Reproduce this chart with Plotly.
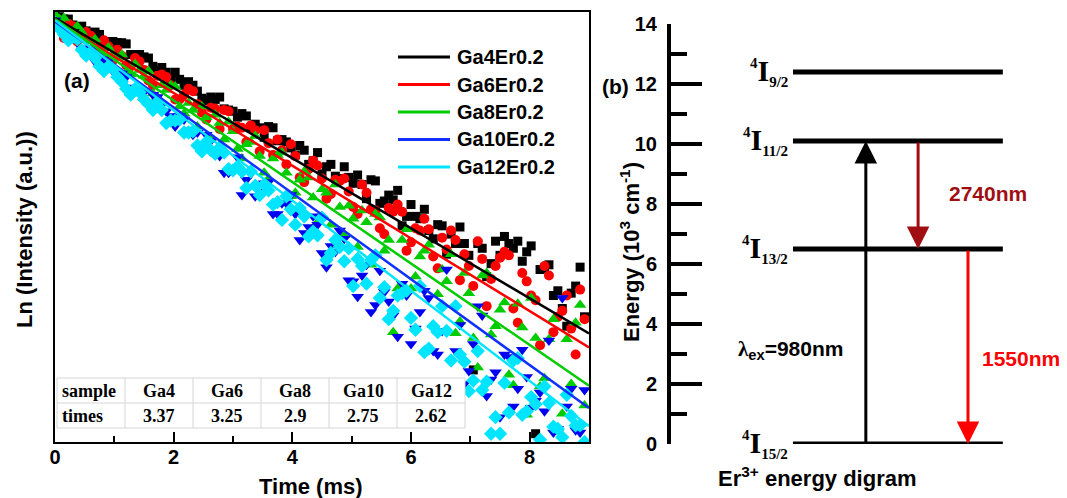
import plotly.graph_objects as go

W, H = 1067, 498
SANS = "Liberation Sans, Arial, sans-serif"
SERIF = "Liberation Serif, Times New Roman, serif"

# ---------------- panel (a): decay curves ----------------
sample_names = ["Ga4Er0.2", "Ga6Er0.2", "Ga8Er0.2", "Ga10Er0.2", "Ga12Er0.2"]
sample_short = ["Ga4", "Ga6", "Ga8", "Ga10", "Ga12"]
lifetimes_ms = [3.37, 3.25, 2.9, 2.75, 2.62]
fit_intercepts = [0.0, -0.02, -0.01, -0.03, -0.02]
series_colors = ["#000000", "#FF0000", "#00CC00", "#0000F0", "#00E5FF"]
line_colors = ["#000000", "#FF0000", "#00CC00", "#1030FF", "#00E5FF"]
marker_symbols = ["square", "circle", "triangle-up", "triangle-down", "diamond"]
marker_sizes = [9, 10, 11, 11, 11]

# sampling times (ms): main grid and the half-step samples between them
time_a = [0.00, 0.15, 0.30, 0.45, 0.60, 0.75, 0.90, 1.05, 1.20, 1.35,
          1.50, 1.65, 1.80, 1.95, 2.10, 2.25, 2.40, 2.55, 2.70, 2.85,
          3.00, 3.15, 3.30, 3.45, 3.60, 3.75, 3.90, 4.05, 4.20, 4.35,
          4.50, 4.65, 4.80, 4.95, 5.10, 5.25, 5.40, 5.55, 5.70, 5.85,
          6.00, 6.15, 6.30, 6.45, 6.60, 6.75, 6.90, 7.05, 7.20, 7.35,
          7.50, 7.65, 7.80, 7.95, 8.10, 8.25, 8.40, 8.55, 8.70, 8.85]
time_b = [0.075, 0.225, 0.375, 0.525, 0.675, 0.825, 0.975, 1.125, 1.275, 1.425,
          1.575, 1.725, 1.875, 2.025, 2.175, 2.325, 2.475, 2.625, 2.775, 2.925,
          3.075, 3.225, 3.375, 3.525, 3.675, 3.825, 3.975, 4.125, 4.275, 4.425,
          4.575, 4.725, 4.875, 5.025, 5.175, 5.325, 5.475, 5.625, 5.775, 5.925,
          6.075, 6.225, 6.375, 6.525, 6.675, 6.825, 6.975, 7.125, 7.275, 7.425,
          7.575, 7.725, 7.875, 8.025, 8.175, 8.325, 8.475, 8.625, 8.775, 8.925]

ln_ga4_a = [0.02, -0.01, -0.06, -0.07, -0.13, -0.14, -0.20, -0.21, -0.22, -0.31,
            -0.33, -0.41, -0.42, -0.51, -0.52, -0.54, -0.62, -0.70, -0.69, -0.77,
            -0.79, -0.81, -0.93, -0.93, -0.92, -1.04, -1.05, -1.16, -1.12, -1.21,
            -1.32, -1.24, -1.36, -1.35, -1.33, -1.53, -1.38, -1.55, -1.54, -1.76,
            -1.58, -1.70, -1.80, -1.75, -2.00, -1.91, -1.91, -2.98, -1.95, -2.08,
            -2.01, -1.91, -1.89, -1.98, -3.52, -2.12, -2.35, -2.46, -2.33, -2.11]
ln_ga4_b = [0.01, -0.01, -0.09, -0.11, -0.12, -0.20, -0.20, -0.21, -0.31, -0.31,
            -0.34, -0.45, -0.46, -0.46, -0.57, -0.57, -0.68, -0.67, -0.67, -0.78,
            -0.84, -0.83, -0.90, -1.01, -0.93, -1.03, -1.10, -1.08, -1.24, -1.14,
            -1.26, -1.34, -1.26, -1.40, -1.41, -1.37, -1.57, -1.50, -1.46, -1.68,
            -1.68, -1.62, -1.87, -1.76, -1.83, -1.77, -2.01, -1.91, -2.19, -1.89,
            -1.85, -1.95, -2.06, -1.93, -2.13, -2.09, -2.31, -2.61, -2.27, -2.53]

ln_ga6_a = [-0.03, -0.17, -0.07, -0.16, -0.15, -0.28, -0.24, -0.27, -0.40, -0.34,
            -0.44, -0.57, -0.48, -0.57, -0.69, -0.60, -0.73, -0.86, -0.77, -0.78,
            -0.94, -0.93, -0.91, -1.13, -1.06, -1.03, -1.24, -1.17, -1.39, -1.21,
            -1.36, -1.49, -1.38, -1.47, -1.66, -1.48, -1.63, -1.83, -1.64, -1.64,
            -1.90, -1.80, -1.79, -2.12, -1.96, -1.88, -2.00, -2.27, -2.04, -2.21,
            -2.03, -2.01, -2.58, -2.23, -2.39, -2.10, -2.66, -2.48, -2.63, -2.30]
ln_ga6_b = [-0.07, -0.05, -0.20, -0.12, -0.24, -0.19, -0.36, -0.32, -0.41, -0.37,
            -0.53, -0.49, -0.50, -0.69, -0.65, -0.62, -0.80, -0.76, -0.94, -0.79,
            -0.92, -1.05, -0.95, -0.95, -1.16, -1.12, -1.07, -1.35, -1.28, -1.25,
            -1.53, -1.37, -1.36, -1.60, -1.41, -1.62, -1.78, -1.61, -1.58, -1.97,
            -1.78, -1.70, -2.02, -1.86, -1.80, -2.22, -2.10, -1.89, -2.44, -2.10,
            -1.98, -2.46, -2.16, -2.35, -2.77, -2.18, -2.53, -2.35, -2.85, -2.55]

ln_ga8_a = [0.03, 0.00, -0.12, -0.12, -0.20, -0.30, -0.25, -0.34, -0.46, -0.39,
            -0.49, -0.64, -0.57, -0.57, -0.75, -0.72, -0.92, -0.84, -0.82, -1.03,
            -0.96, -1.19, -1.05, -1.17, -1.36, -1.16, -1.31, -1.48, -1.30, -1.52,
            -1.45, -1.75, -1.60, -1.59, -1.94, -1.73, -1.66, -1.97, -2.66, -1.88,
            -2.29, -2.02, -1.92, -2.34, -2.23, -2.67, -2.16, -2.71, -2.18, -2.68,
            -2.47, -3.02, -2.42, -3.36, -2.71, -3.05, -2.55, -3.35, -3.10, -2.43]
ln_ga8_b = [-0.01, -0.12, -0.07, -0.19, -0.18, -0.34, -0.31, -0.31, -0.48, -0.44,
            -0.45, -0.67, -0.61, -0.58, -0.81, -0.78, -0.75, -1.02, -0.89, -0.88,
            -1.11, -1.07, -1.00, -1.31, -1.19, -1.14, -1.51, -1.37, -1.35, -1.73,
            -1.48, -1.41, -1.84, -1.70, -1.63, -2.09, -1.69, -1.88, -2.29, -1.79,
            -2.19, -1.97, -2.60, -2.13, -2.00, -2.57, -2.33, -2.96, -2.16, -2.61,
            -2.41, -3.11, -2.62, -2.37, -3.12, -2.72, -3.47, -2.72, -2.58, -3.28]

ln_ga10_a = [-0.02, -0.11, -0.14, -0.26, -0.27, -0.35, -0.37, -0.47, -0.50, -0.60,
             -0.63, -0.65, -0.74, -0.83, -0.83, -0.95, -0.97, -0.99, -1.12, -1.31,
             -1.29, -1.50, -1.32, -1.47, -1.39, -1.66, -1.57, -1.66, -1.82, -1.68,
             -1.99, -1.93, -1.80, -2.22, -2.36, -2.09, -2.43, -2.32, -2.52, -2.25,
             -2.76, -2.49, -2.37, -2.85, -2.13, -2.82, -3.10, -2.76, -2.52, -3.06,
             -3.38, -2.87, -3.14, -3.04, -3.24, -3.33, -3.51, -2.37, -3.14, -3.51]
ln_ga10_b = [-0.07, -0.16, -0.16, -0.26, -0.37, -0.35, -0.45, -0.47, -0.59, -0.60,
             -0.72, -0.67, -0.79, -0.92, -0.86, -0.99, -1.12, -1.04, -1.17, -1.31,
             -1.18, -1.37, -1.51, -1.40, -1.66, -1.57, -1.50, -1.88, -1.77, -1.75,
             -2.11, -1.98, -1.87, -2.23, -2.18, -2.49, -2.14, -2.40, -2.70, -2.35,
             -2.63, -2.31, -2.82, -2.65, -3.08, -2.60, -2.99, -2.44, -3.20, -3.00,
             -2.85, -3.29, -2.81, -3.30, -3.17, -2.73, -3.48, -3.29, -3.49, -3.15]

ln_ga12_a = [-0.04, -0.14, -0.16, -0.27, -0.29, -0.41, -0.41, -0.50, -0.60, -0.60,
             -0.69, -0.78, -0.78, -0.87, -0.86, -0.97, -1.08, -1.05, -1.15, -1.14,
             -1.29, -1.30, -1.30, -1.50, -1.46, -1.56, -1.51, -1.75, -1.68, -1.81,
             -1.69, -1.99, -1.94, -1.95, -2.04, -2.25, -2.01, -2.28, -2.48, -2.33,
             -2.54, -2.27, -2.80, -2.66, -2.65, -2.44, -2.91, -3.07, -3.15, -3.52,
             -3.52, -3.34, -2.88, -3.33, -3.27, -3.12, -3.46, -3.55, -3.37, -3.45]
ln_ga12_b = [-0.09, -0.19, -0.18, -0.32, -0.34, -0.45, -0.43, -0.54, -0.65, -0.63,
             -0.73, -0.71, -0.89, -0.87, -0.97, -0.96, -1.13, -1.12, -1.10, -1.28,
             -1.26, -1.44, -1.42, -1.41, -1.58, -1.71, -1.62, -1.61, -1.85, -1.84,
             -2.05, -1.88, -2.06, -2.27, -2.10, -2.05, -2.37, -2.55, -2.35, -2.31,
             -2.64, -2.83, -2.61, -2.44, -2.90, -2.85, -3.16, -2.82, -3.08, -3.38,
             -3.09, -2.90, -3.36, -3.21, -3.57, -3.26, -3.48, -3.19, -3.45, -3.59]

decay_a = [ln_ga4_a, ln_ga6_a, ln_ga8_a, ln_ga10_a, ln_ga12_a]
decay_b = [ln_ga4_b, ln_ga6_b, ln_ga8_b, ln_ga10_b, ln_ga12_b]
fit_span_ms = [0.0, 9.0]

# ---------------- panel (b): Er3+ energy levels ----------------
level_labels = ["15/2", "13/2", "11/2", "9/2"]
level_energy = [0.0, 6.5, 10.1, 12.4]          # 10^3 cm^-1
level_x_span = [3.08, 8.38]
transition_from = [0.0, 10.1, 6.5]
transition_to = [10.1, 6.5, 0.0]
transition_x = [4.92, 6.24, 7.50]
transition_colors = ["#000000", "#A00E12", "#FF0000"]


def px(x):
    return x / W


def py(y):
    return 1 - y / H


fig = go.Figure()

for ya, yb, name, col, sym, sz in zip(decay_a, decay_b, sample_names, series_colors,
                                      marker_symbols, marker_sizes):
    fig.add_trace(go.Scatter(
        x=time_a + time_b, y=ya + yb, mode="markers", name=name, showlegend=False,
        marker=dict(symbol=sym, size=sz, color=col, line=dict(width=0)),
        xaxis="x", yaxis="y"))

for tau, b, col, name in zip(lifetimes_ms, fit_intercepts, line_colors, sample_names):
    fig.add_trace(go.Scatter(
        x=fit_span_ms, y=[b - t / tau for t in fit_span_ms], mode="lines",
        name=name, showlegend=False, line=dict(color=col, width=2.5),
        xaxis="x", yaxis="y"))

# energy levels
for e in level_energy:
    fig.add_trace(go.Scatter(
        x=level_x_span, y=[e, e], mode="lines", showlegend=False,
        line=dict(color="black", width=5), xaxis="x2", yaxis="y2"))

annotations = []
shapes = []

# lifetime table (sample / times rows), white cells over the plot
tbl_cols = [57, 125, 193, 261, 329, 397, 465]
tbl_rows = [378, 403, 428]
shapes.append(dict(type="rect", xref="paper", yref="paper", layer="above",
                   x0=px(tbl_cols[0]), x1=px(tbl_cols[-1]),
                   y0=py(tbl_rows[-1]), y1=py(tbl_rows[0]),
                   fillcolor="white", line=dict(width=0)))
for r in tbl_rows:
    shapes.append(dict(type="line", xref="paper", yref="paper", layer="above",
                       x0=px(tbl_cols[0]), x1=px(tbl_cols[-1]), y0=py(r), y1=py(r),
                       line=dict(color="#d6d6d6", width=1)))
for c in tbl_cols:
    shapes.append(dict(type="line", xref="paper", yref="paper", layer="above",
                       x0=px(c), x1=px(c), y0=py(tbl_rows[0]), y1=py(tbl_rows[-1]),
                       line=dict(color="#d6d6d6", width=1)))
row_texts = [["sample"] + sample_short, ["times"] + [str(t) for t in lifetimes_ms]]
for ri, texts in enumerate(row_texts):
    yc = py((tbl_rows[ri] + tbl_rows[ri + 1]) / 2)
    for ci, txt in enumerate(texts):
        if ci == 0:
            xx, anc = px(tbl_cols[0] + 3), "left"
        else:
            xx, anc = px((tbl_cols[ci] + tbl_cols[ci + 1]) / 2), "center"
        annotations.append(dict(
            x=xx, y=yc, xref="paper", yref="paper", xanchor=anc, yanchor="middle",
            showarrow=False, text=txt,
            font=dict(family=SERIF, size=18, color="black", weight="bold")))

# transitions as arrows
for e0, e1, xx, col in zip(transition_from, transition_to, transition_x, transition_colors):
    annotations.append(dict(
        x=xx, y=e1, ax=xx, ay=e0, xref="x2", yref="y2", axref="x2", ayref="y2",
        text="", showarrow=True, arrowhead=2, arrowsize=1.5, arrowwidth=3,
        arrowcolor=col, standoff=0, startstandoff=0))

# level labels
for lab, e in zip(level_labels, level_energy):
    annotations.append(dict(
        x=px(790), y=e, xref="paper", yref="y2", xanchor="right", yanchor="middle",
        showarrow=False,
        text=(f"<sup><span style='font-size:15px'>4</span></sup>I"
              f"<sub><span style='font-size:15px'>{lab}</span></sub>"),
        font=dict(family=SERIF, size=30, color="black", weight="bold")))

bold = dict(family=SANS, color="black", weight="bold")


def label(x, y, text, size, angle=0, color="black", xanchor="center"):
    return dict(x=px(x), y=py(y), xref="paper", yref="paper", xanchor=xanchor,
                yanchor="middle", showarrow=False, text=text, textangle=angle,
                font=dict(family=SANS, size=size, color=color, weight="bold"))


annotations += [
    label(947, 194, "2740nm", 21, color="#A00E12", xanchor="left"),
    label(980, 358, "1550nm", 21, color="#FF0000", xanchor="left"),
    label(736, 350, f"<span style='font-family:{SERIF.split(',')[0]}'>λ</span>"
                    "<sub>ex</sub>=980nm", 21, xanchor="left"),
    label(77, 80, "(a)", 21),
    label(615, 86, "(b)", 21),
    label(311, 486, "Time (ms)", 22),
    label(25, 230, "Ln (Intensity (a.u.))", 22, angle=-90),
    label(630, 252, "Energy (10<sup>3</sup> cm<sup>-1</sup>)", 22, angle=-90),
    label(817, 477, "Er<sup>3+</sup> energy digram", 22),
]

# legend for the fitted lines
for i, (name, col) in enumerate(zip(sample_names, line_colors)):
    yy = 57 + 27.5 * i
    shapes.append(dict(type="line", xref="paper", yref="paper",
                       x0=px(398), x1=px(450), y0=py(yy), y1=py(yy),
                       line=dict(color=col, width=3)))
    annotations.append(label(455, yy, name, 20, xanchor="left"))

fig.update_layout(
    template="none",
    width=W, height=H, margin=dict(l=0, r=0, t=0, b=0, pad=0),
    paper_bgcolor="white", plot_bgcolor="white", showlegend=False,
    xaxis=dict(domain=[px(55), px(589)], range=[0, 9], tick0=0, dtick=2,
               ticks="inside", ticklen=10, tickwidth=2, tickcolor="black",
               minor=dict(ticks="inside", ticklen=6, tickwidth=2, dtick=1,
                          tickcolor="black"),
               showline=True, linewidth=2, linecolor="black", mirror=True,
               showgrid=False, zeroline=False, automargin=False,
               ticklabelstandoff=-4,
               tickfont=dict(bold, size=20), anchor="y"),
    yaxis=dict(domain=[py(442), py(12)], range=[-3.59, 0.05],
               showticklabels=False, ticks="", showline=True, linewidth=2,
               linecolor="black", mirror=True, showgrid=False, zeroline=False,
               automargin=False, anchor="x"),
    xaxis2=dict(domain=[px(671), 1.0], range=[0, 10], visible=False,
                automargin=False, anchor="y2"),
    yaxis2=dict(domain=[py(444), py(24)], range=[0, 14], tick0=0, dtick=2,
                ticks="inside", ticklen=31, tickwidth=4, tickcolor="black",
                minor=dict(ticks="inside", ticklen=16, tickwidth=4, dtick=1,
                           tickcolor="black"),
                showline=True, linewidth=4, linecolor="black",
                showgrid=False, zeroline=False, ticklabelstandoff=6,
                automargin=False, tickfont=dict(bold, size=20), anchor="x2"),
    annotations=annotations, shapes=shapes,
)

fig.write_html("out.html")
